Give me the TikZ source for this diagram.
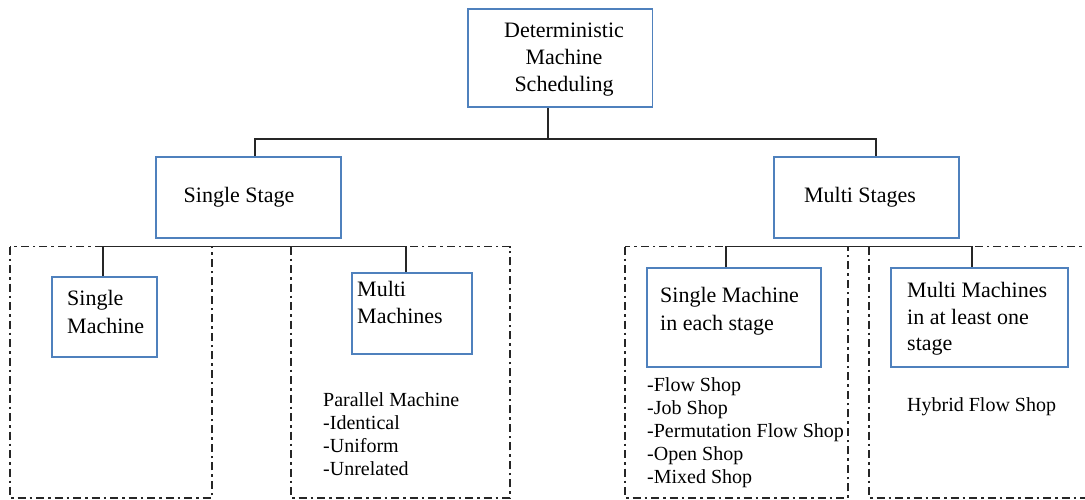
\documentclass[tikz,border=0pt]{standalone}
\usepackage{fontspec}
\setmainfont{Liberation Serif}
\definecolor{boxblue}{RGB}{79,129,189}
\tikzset{
  box/.style={draw=boxblue, line width=1.6pt, rectangle, inner sep=0pt},
  wire/.style={draw=black!85, line width=1.5pt},
  region/.style={draw=black!85, line width=1.2pt,
    dash pattern=on 8pt off 4pt on 2.5pt off 4pt},
  boxtext/.style={inner sep=0pt, align=left, anchor=north west,
    font=\fontsize{22}{27}\selectfont},
  listtext/.style={inner sep=0pt, align=left, anchor=north west,
    font=\fontsize{20}{22.9}\selectfont},
}
\begin{document}
\begin{tikzpicture}[x=1pt, y=-1pt]
\clip (0,0) rectangle (1085,500);
\fill[white] (0,0) rectangle (1085,500);

% dash-dotted groups
\draw[region] (10,246.7) rectangle (212,498);
\draw[region] (291,246.7) rectangle (510,498);
\draw[region] (625,246.7) rectangle (848,498);
\draw[region] (869,246.7) rectangle (1100,498);

% level 0
\node[box, minimum width=184.5pt, minimum height=98pt] (top) at (560.25,58.3) {};
\node[inner sep=0pt, align=center, anchor=north,
      font=\fontsize{22}{27}\selectfont] (toptxt) at (564,22.3)
      {Deterministic\\Machine\\Scheduling};

% level 1
\node[box, minimum width=185pt, minimum height=81pt] (ss) at (248.5,197.5) {};
\node[inner sep=0pt, anchor=base, font=\fontsize{22}{27}\selectfont] (sstxt)
      at (239,202.5) {Single Stage};
\node[box, minimum width=185pt, minimum height=81pt] (ms) at (866.3,197.5) {};
\node[inner sep=0pt, anchor=base, font=\fontsize{22}{27}\selectfont] (mstxt)
      at (860,202.5) {Multi Stages};

% level 2
\node[box, minimum width=105pt, minimum height=80pt] (sm) at (104.5,317) {};
\node[boxtext, font=\fontsize{22}{28.5}\selectfont] (smtxt) at (67,290) {Single\\Machine};
\node[box, minimum width=120pt, minimum height=80.5pt] (mm) at (412,313.5) {};
\node[boxtext] (mmtxt) at (357,281.3) {Multi\\Machines};
\node[box, minimum width=174pt, minimum height=99pt] (sme) at (734,317.5) {};
\node[boxtext, font=\fontsize{22}{28}\selectfont] (smetxt) at (660,287)
      {Single Machine\\in each stage};
\node[box, minimum width=177pt, minimum height=99pt] (mme) at (979.5,317.5) {};
\node[boxtext, font=\fontsize{22}{26.7}\selectfont] (mmetxt) at (907,282)
      {Multi Machines\\in at least one\\stage};

% lists
\node[listtext] (par) at (323,392.8)
      {Parallel Machine\\-Identical\\-Uniform\\-Unrelated};
\node[listtext] (shops) at (647,377.8)
      {-Flow Shop\\-Job Shop\\-Permutation Flow Shop\\-Open Shop\\-Mixed Shop};
\node[listtext] (hyb) at (907,397.8) {Hybrid Flow Shop};

% connectors
\coordinate (j0) at (548,139);
\coordinate (jl) at (255,139);
\coordinate (jr) at (876,139);
\draw[wire] (top.south -| j0) -- (j0);
\draw[wire] (ss.north -| jl) -- (jl) -- (jr) -- (ms.north -| jr);

\coordinate (kl) at (103,246.7);
\coordinate (kr) at (406,246.7);
\draw[wire] (sm.north -| kl) -- (kl) -- (kr) -- (mm.north -| kr);

\coordinate (ml) at (726,246.7);
\coordinate (mr) at (972,246.7);
\draw[wire] (sme.north -| ml) -- (ml) -- (mr) -- (mme.north -| mr);
\end{tikzpicture}
\end{document}
